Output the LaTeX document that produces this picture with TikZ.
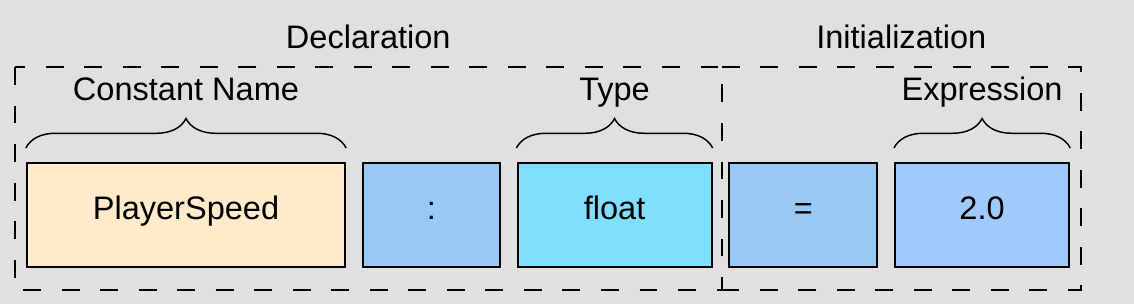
\documentclass[tikz,border=0pt]{standalone}
\usepackage{fontspec}
\setmainfont{Liberation Sans}
\usetikzlibrary{positioning,calc,decorations.pathreplacing}
\definecolor{bggray}{HTML}{E0E0E0}
\definecolor{namefill}{HTML}{FFEBCB}
\definecolor{symfill}{HTML}{99CAF6}
\definecolor{typefill}{HTML}{80DFFD}
\definecolor{valfill}{HTML}{A0CAFC}

\begin{document}
\begin{tikzpicture}[
  font=\fontsize{24.5}{29}\selectfont,
  node distance=0.47cm,
  part/.style={draw=black, line width=1.5pt, inner sep=0pt, outer sep=0pt,
    minimum height=2.752cm, text height=0.966em, text depth=0.25em},
  tag/.style={inner sep=0pt, anchor=base},
  frame/.style={draw=black, line width=1.5pt, dash pattern=on 13.5pt off 15.5pt},
  brace/.style={decorate, decoration={brace, amplitude=0.78cm},
    line width=1.1pt},
]

% ---- canvas --------------------------------------------------------------
\useasboundingbox (0,0) rectangle (30.003,-8.043);
\fill[bggray] (0,0) rectangle (30.003,-8.043);

% ---- the statement, one box per token ------------------------------------
\node[part, fill=namefill, minimum width=8.414cm, anchor=north west]
  (name) at (0.714,-4.313) {PlayerSpeed};
\node[part, fill=symfill, minimum width=3.625cm, right=of name] (colon) {:};
\node[part, fill=typefill, minimum width=5.133cm, right=of colon] (float) {float};
\node[part, fill=symfill, minimum width=3.916cm, right=of float] (equals) {=};
\node[part, fill=valfill, minimum width=4.604cm, right=of equals] (value) {2.0};

% ---- braces and what they mark -------------------------------------------
\foreach \n in {name, float, value}
  \draw[brace] ($(\n.north west)+(-0.03,0.397)$) -- ($(\n.north east)+(0.03,0.397)$);

\node[tag, above=1.667cm of name.north, anchor=base] (namelabel) {Constant Name};
\node[tag, above=1.667cm of float.north, anchor=base] (typelabel) {Type};
\node[tag, above=1.667cm of value.north, anchor=base] (exprlabel) {Expression};

% ---- the two halves --------------------------------------------------------
% The right half reuses the divider of the left one, so it stays open there.
\coordinate (declnw) at ($(name.north west)+(-0.317,2.54)$);
\coordinate (declse) at ($(float.south east)+(0.265,-0.608)$);
\coordinate (initse) at ($(value.south east)+(0.317,-0.608)$);
\draw[frame] (declnw) rectangle (declse);
\draw[frame] (declse |- declnw) -- (initse |- declnw) -- (initse) -- (declse);

\node[tag] (decltitle) at ($(declnw)!0.5!(declse |- declnw)+(0,0.503)$) {Declaration};
\node[tag] (inittitle) at ($(declse |- declnw)!0.5!(initse |- declnw)+(0,0.503)$) {Initialization};

\end{tikzpicture}
\end{document}
